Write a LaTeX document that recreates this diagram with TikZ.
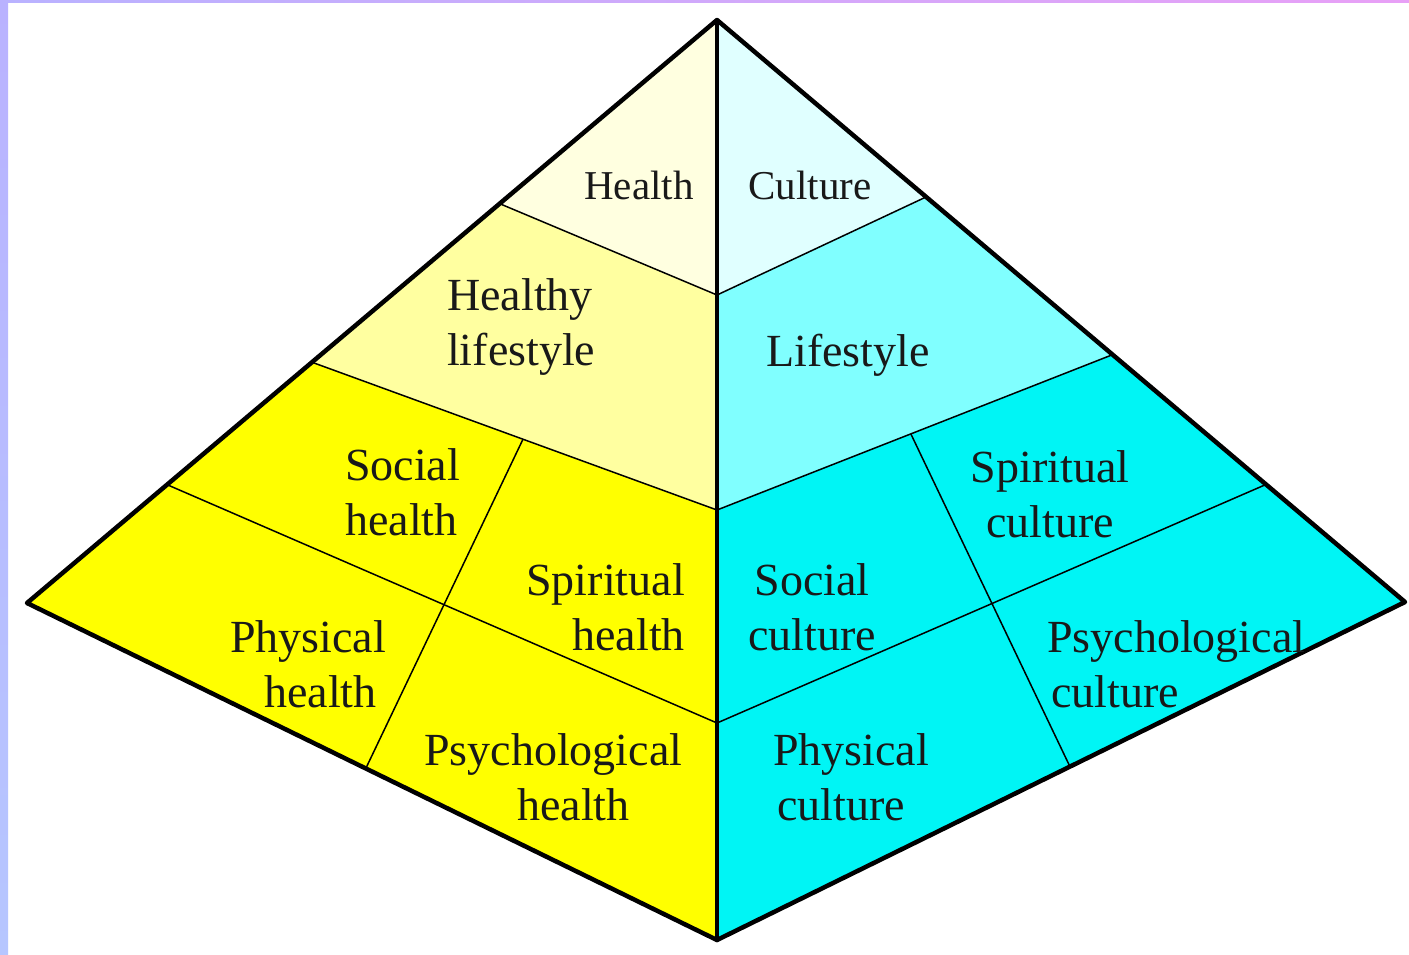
\documentclass[tikz,border=0pt]{standalone}
\usepackage{fontspec}
\setmainfont{Liberation Serif}
\usetikzlibrary{calc}
\definecolor{hTop}{RGB}{255,255,224}
\definecolor{hMid}{RGB}{255,255,160}
\definecolor{hLow}{RGB}{255,255,0}
\definecolor{cTop}{RGB}{224,255,255}
\definecolor{cMid}{RGB}{128,255,255}
\definecolor{cLow}{RGB}{0,245,245}
\definecolor{ink}{RGB}{25,25,25}
\definecolor{lavA}{RGB}{185,178,255}
\definecolor{lavB}{RGB}{182,198,255}
\definecolor{pinkA}{RGB}{232,160,246}
\tikzset{
  outer/.style={line width=4.5pt, line join=round, line cap=round},
  inner/.style={line width=1.5pt},
  lbl/.style={inner sep=0pt, text=ink, font=\fontsize{46}{55}\selectfont},
  toplbl/.style={inner sep=0pt, text=ink, font=\fontsize{41}{49}\selectfont},
}
\begin{document}
\begin{tikzpicture}[x=1pt,y=-1pt]
\useasboundingbox (0,0) rectangle (1409,954);
\fill[white] (0,0) rectangle (1409,954);
% border stripes
\shade[top color=lavA, bottom color=lavB] (0,0) rectangle (8,954);
\shade[left color=lavA, right color=pinkA] (0,0) rectangle (1409,2.5);
% main points
\coordinate (A) at (717,20);
\coordinate (L) at (27,603);
\coordinate (R) at (1405,602);
\coordinate (B) at (717,940);
\coordinate (L1) at ($(A)!0.315!(L)$);
\coordinate (L2) at ($(A)!0.587!(L)$);
\coordinate (L3) at ($(A)!0.797!(L)$);
\coordinate (R1) at ($(A)!0.304!(R)$);
\coordinate (R2) at ($(A)!0.575!(R)$);
\coordinate (R3) at ($(A)!0.798!(R)$);
\coordinate (C1) at (717,295);
\coordinate (C2) at (717,510);
\coordinate (C3) at (717,723);
\coordinate (DL1) at ($(L2)!0.521!(C2)$);
\coordinate (DL2) at ($(L)!0.491!(B)$);
\coordinate (DR1) at ($(C2)!0.49!(R2)$);
\coordinate (DR2) at ($(B)!0.513!(R)$);
% fills
\fill[hTop] (A) -- (L1) -- (C1) -- cycle;
\fill[hMid] (L1) -- (L2) -- (C2) -- (C1) -- cycle;
\fill[hLow] (L2) -- (L) -- (B) -- (C2) -- cycle;
\fill[cTop] (A) -- (C1) -- (R1) -- cycle;
\fill[cMid] (C1) -- (R1) -- (R2) -- (C2) -- cycle;
\fill[cLow] (C2) -- (R2) -- (R) -- (B) -- cycle;
% inner lines
\draw[inner] (L1) -- (C1) -- (R1);
\draw[inner] (L2) -- (C2) -- (R2);
\draw[inner] (L3) -- (C3) -- (R3);
\draw[inner] (DL1) -- (DL2);
\draw[inner] (DR1) -- (DR2);
% outline
\draw[outer] (A) -- (L) -- (B) -- (R) -- cycle;
\draw[outer] (A) -- (B);
% labels (multi-line nodes anchored at the baseline of their last line)
\node[toplbl, anchor=base] (health) at (639,199) {Health};
\node[toplbl, anchor=base] (culture) at (810,199) {Culture};
\node[lbl, align=left, anchor=base west] (hlife) at (447,365) {Healthy\\lifestyle};
\node[lbl, anchor=base] (life) at (848,366) {Lifestyle};
\node[lbl, align=left, anchor=base west] (socH) at (345,535) {Social\\health};
\node[lbl, align=right, anchor=base east] (spiH) at (685,650) {Spiritual\\health};
\node[lbl, align=left, anchor=base west] (phyH) at (230,707) {Physical\\\hspace*{34pt}health};
\node[lbl, align=left, anchor=base west] (psyH) at (424,820) {Psychological\\\hspace*{93pt}health};
\node[lbl, align=center, anchor=base] (spiC) at (1050,537) {Spiritual\\culture};
\node[lbl, align=center, anchor=base] (socC) at (812,650) {Social\\culture};
\node[lbl, align=left, anchor=base west] (psyC) at (1047,707) {Psychological\\\hspace*{4pt}culture};
\node[lbl, align=left, anchor=base west] (phyC) at (773,820) {Physical\\\hspace*{4pt}culture};
\end{tikzpicture}
\end{document}
